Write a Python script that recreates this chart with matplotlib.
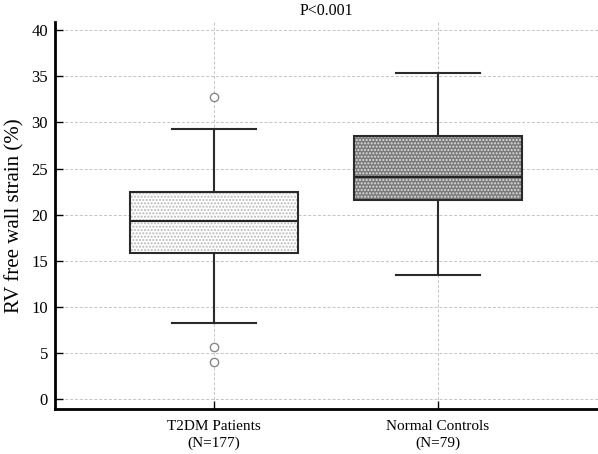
import matplotlib
matplotlib.use("Agg")
import matplotlib.pyplot as plt

plt.rcParams['font.family'] = ['Liberation Serif', 'DejaVu Serif']
plt.rcParams['hatch.linewidth'] = 1.0

categories = ["T2DM Patients\n(N=177)", "Normal Controls\n(N=79)"]
whislo = [8.2, 13.4]
q1 = [15.8, 21.6]
median = [19.3, 24.1]
q3 = [22.4, 28.5]
whishi = [29.3, 35.4]
outliers = [[32.8, 5.6, 4.0], []]
yticks = [0, 5, 10, 15, 20, 25, 30, 35, 40]
title = "P<0.001"
ylabel = "RV free wall strain (%)"

face_colors = ["white", "#7a7a7a"]
hatch_colors = ["#b8b8b8", "#e0e0e0"]

stats = []
for i in range(len(categories)):
    stats.append(dict(whislo=whislo[i], q1=q1[i], med=median[i], q3=q3[i],
                      whishi=whishi[i], fliers=outliers[i], label=categories[i]))

fig = plt.figure(figsize=(5.98, 4.54), dpi=100)
ax = fig.add_axes([0.092, 0.099, 0.908, 0.8525])

positions = list(range(1, len(categories) + 1))

# layer 1: hatched fill
b1 = ax.bxp(stats, positions=positions, widths=0.75, patch_artist=True,
            showfliers=False, showcaps=False,
            whiskerprops=dict(linewidth=0), medianprops=dict(linewidth=0))
for patch, fc, hc in zip(b1['boxes'], face_colors, hatch_colors):
    patch.set_facecolor(fc)
    patch.set_edgecolor(hc)
    patch.set_hatch('.....')
    patch.set_linewidth(0)
    patch.set_zorder(2)

# layer 2: outlines
b2 = ax.bxp(stats, positions=positions, widths=0.75, patch_artist=True,
            showfliers=True,
            boxprops=dict(facecolor='none', edgecolor='#2a2a2a', linewidth=1.5),
            whiskerprops=dict(color='#2a2a2a', linewidth=1.5),
            capprops=dict(color='#2a2a2a', linewidth=1.5),
            medianprops=dict(color='#222222', linewidth=1.5),
            flierprops=dict(marker='o', markersize=6, markerfacecolor='white',
                            markeredgecolor='#888888', markeredgewidth=1.0),
            capwidths=0.375)
for p in b2['boxes']:
    p.set_zorder(3)

ax.set_xlim(0.29, 2.714)
ax.set_ylim(-1.1, 40.9)
ax.set_yticks(yticks)
ax.set_xticks(positions)
ax.set_xticklabels(categories, fontsize=11, linespacing=1.3)
ax.tick_params(axis='y', labelsize=12, direction='in', length=6, width=1, pad=5)
ax.tick_params(axis='x', direction='in', length=6, width=1, pad=8)
ax.set_ylabel(ylabel, fontsize=15, labelpad=5)
ax.set_title(title, fontsize=11.5, pad=5)

ax.grid(True, color='#c4c4c4', linestyle='--', linewidth=0.7, dashes=(3, 2))
ax.set_axisbelow(True)
for s in ['top', 'right']:
    ax.spines[s].set_visible(False)
for s in ['left', 'bottom']:
    ax.spines[s].set_linewidth(2)
    ax.spines[s].set_color('black')

fig.savefig("out.png", dpi=100)
